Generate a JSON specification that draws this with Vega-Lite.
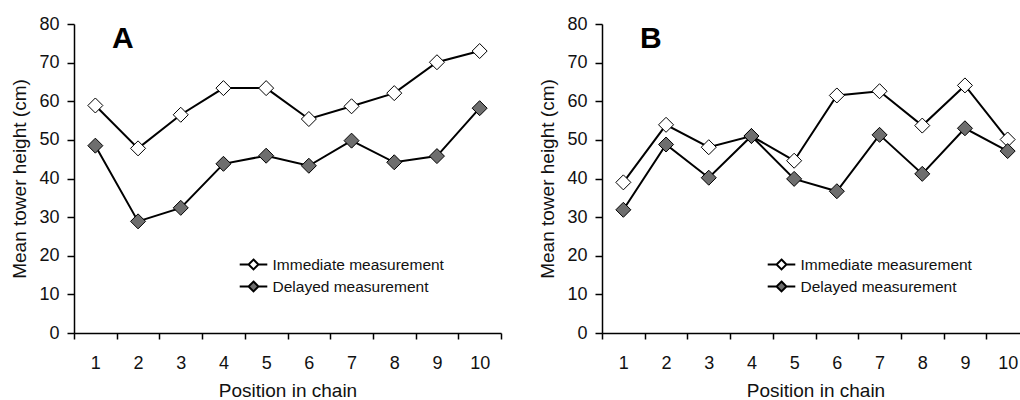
{
  "$schema": "https://vega.github.io/schema/vega-lite/v6.json",
  "padding": {"left": 10, "top": 15, "right": 0, "bottom": 0},
  "background": "white",
  "config": {
    "font": "Liberation Sans",
    "view": {"stroke": null},
    "axis": {
      "grid": false,
      "domainColor": "black",
      "tickColor": "black",
      "domainWidth": 1.5,
      "tickWidth": 1.5,
      "labelColor": "#111",
      "titleColor": "#111",
      "labelFontSize": 18,
      "titleFontSize": 19,
      "titleFontWeight": "normal"
    },
    "legend": {
      "labelFontSize": 15.5,
      "labelColor": "#111",
      "labelLimit": 400
    }
  },
  "datasets": {
    "d": [
      {"panel": "A", "position": 1, "series": "Immediate measurement", "value": 58.9},
      {"panel": "A", "position": 2, "series": "Immediate measurement", "value": 47.8},
      {"panel": "A", "position": 3, "series": "Immediate measurement", "value": 56.5},
      {"panel": "A", "position": 4, "series": "Immediate measurement", "value": 63.4},
      {"panel": "A", "position": 5, "series": "Immediate measurement", "value": 63.4},
      {"panel": "A", "position": 6, "series": "Immediate measurement", "value": 55.4},
      {"panel": "A", "position": 7, "series": "Immediate measurement", "value": 58.7},
      {"panel": "A", "position": 8, "series": "Immediate measurement", "value": 62.1},
      {"panel": "A", "position": 9, "series": "Immediate measurement", "value": 70.1},
      {"panel": "A", "position": 10, "series": "Immediate measurement", "value": 73.0},
      {"panel": "A", "position": 1, "series": "Delayed measurement", "value": 48.5},
      {"panel": "A", "position": 2, "series": "Delayed measurement", "value": 28.9},
      {"panel": "A", "position": 3, "series": "Delayed measurement", "value": 32.4},
      {"panel": "A", "position": 4, "series": "Delayed measurement", "value": 43.8},
      {"panel": "A", "position": 5, "series": "Delayed measurement", "value": 45.9},
      {"panel": "A", "position": 6, "series": "Delayed measurement", "value": 43.3},
      {"panel": "A", "position": 7, "series": "Delayed measurement", "value": 49.8},
      {"panel": "A", "position": 8, "series": "Delayed measurement", "value": 44.2},
      {"panel": "A", "position": 9, "series": "Delayed measurement", "value": 45.8},
      {"panel": "A", "position": 10, "series": "Delayed measurement", "value": 58.2},
      {"panel": "B", "position": 1, "series": "Immediate measurement", "value": 39.0},
      {"panel": "B", "position": 2, "series": "Immediate measurement", "value": 53.9},
      {"panel": "B", "position": 3, "series": "Immediate measurement", "value": 48.1},
      {"panel": "B", "position": 4, "series": "Immediate measurement", "value": 51.0},
      {"panel": "B", "position": 5, "series": "Immediate measurement", "value": 44.6},
      {"panel": "B", "position": 6, "series": "Immediate measurement", "value": 61.5},
      {"panel": "B", "position": 7, "series": "Immediate measurement", "value": 62.6},
      {"panel": "B", "position": 8, "series": "Immediate measurement", "value": 53.7},
      {"panel": "B", "position": 9, "series": "Immediate measurement", "value": 64.1},
      {"panel": "B", "position": 10, "series": "Immediate measurement", "value": 50.1},
      {"panel": "B", "position": 1, "series": "Delayed measurement", "value": 31.9},
      {"panel": "B", "position": 2, "series": "Delayed measurement", "value": 48.8},
      {"panel": "B", "position": 3, "series": "Delayed measurement", "value": 40.2},
      {"panel": "B", "position": 4, "series": "Delayed measurement", "value": 51.0},
      {"panel": "B", "position": 5, "series": "Delayed measurement", "value": 39.9},
      {"panel": "B", "position": 6, "series": "Delayed measurement", "value": 36.7},
      {"panel": "B", "position": 7, "series": "Delayed measurement", "value": 51.3},
      {"panel": "B", "position": 8, "series": "Delayed measurement", "value": 41.2},
      {"panel": "B", "position": 9, "series": "Delayed measurement", "value": 53.0},
      {"panel": "B", "position": 10, "series": "Delayed measurement", "value": 47.1}
    ]
  },
  "spacing": 36,
  "resolve": {"legend": {"fill": "independent"}},
  "hconcat": [
    {
      "width": 427,
      "height": 309,
      "title": {"text": "A", "anchor": "start", "frame": "group", "dx": 38, "offset": -39, "fontSize": 30, "fontWeight": "bold", "color": "black"},
      "data": {"name": "d"},
      "transform": [{"filter": "datum.panel === 'A'"}],
      "encoding": {
        "x": {
          "field": "position", "type": "ordinal",
          "scale": {"type": "band", "paddingInner": 0, "paddingOuter": 0},
          "axis": {"title": "Position in chain", "labelAngle": 0, "tickBand": "extent", "tickSize": 6, "labelPadding": 15, "titlePadding": 9}
        },
        "y": {
          "field": "value", "type": "quantitative",
          "scale": {"domain": [0, 80], "nice": false, "zero": true},
          "axis": {"title": "Mean tower height (cm)", "values": [0, 10, 20, 30, 40, 50, 60, 70, 80], "tickSize": 7, "labelPadding": 8, "titlePadding": 9}
        }
      },
      "layer": [
        {"mark": {"type": "line", "color": "black", "strokeWidth": 2}, "encoding": {"detail": {"field": "series"}}},
        {
          "mark": {"type": "point", "shape": "diamond", "size": 225, "filled": true, "stroke": "black", "strokeWidth": 1, "opacity": 1},
          "encoding": {
            "fill": {
              "field": "series", "type": "nominal",
              "scale": {"domain": ["Immediate measurement", "Delayed measurement"], "range": ["white", "#6e6e6e"]},
              "legend": {"title": null, "orient": "none", "legendX": 167, "legendY": 228, "symbolType": "M-1.2,0L-0.43,0M0,-0.43L0.43,0L0,0.43L-0.43,0ZM0.43,0L1.2,0", "symbolSize": 529, "symbolStrokeColor": "black", "symbolStrokeWidth": 2, "rowPadding": 0, "labelOffset": 6.5, "labelLimit": 400}
            }
          }
        }
      ]
    },
    {
      "width": 427,
      "height": 309,
      "title": {"text": "B", "anchor": "start", "frame": "group", "dx": 38, "offset": -39, "fontSize": 30, "fontWeight": "bold", "color": "black"},
      "data": {"name": "d"},
      "transform": [{"filter": "datum.panel === 'B'"}],
      "encoding": {
        "x": {
          "field": "position", "type": "ordinal",
          "scale": {"type": "band", "paddingInner": 0, "paddingOuter": 0},
          "axis": {"title": "Position in chain", "labelAngle": 0, "tickBand": "extent", "tickSize": 6, "labelPadding": 15, "titlePadding": 9}
        },
        "y": {
          "field": "value", "type": "quantitative",
          "scale": {"domain": [0, 80], "nice": false, "zero": true},
          "axis": {"title": "Mean tower height (cm)", "values": [0, 10, 20, 30, 40, 50, 60, 70, 80], "tickSize": 7, "labelPadding": 8, "titlePadding": 9}
        }
      },
      "layer": [
        {"mark": {"type": "line", "color": "black", "strokeWidth": 2}, "encoding": {"detail": {"field": "series"}}},
        {
          "mark": {"type": "point", "shape": "diamond", "size": 225, "filled": true, "stroke": "black", "strokeWidth": 1, "opacity": 1},
          "encoding": {
            "fill": {
              "field": "series", "type": "nominal",
              "scale": {"domain": ["Immediate measurement", "Delayed measurement"], "range": ["white", "#6e6e6e"]},
              "legend": {"title": null, "orient": "none", "legendX": 167, "legendY": 228, "symbolType": "M-1.2,0L-0.43,0M0,-0.43L0.43,0L0,0.43L-0.43,0ZM0.43,0L1.2,0", "symbolSize": 529, "symbolStrokeColor": "black", "symbolStrokeWidth": 2, "rowPadding": 0, "labelOffset": 6.5, "labelLimit": 400}
            }
          }
        }
      ]
    }
  ]
}
